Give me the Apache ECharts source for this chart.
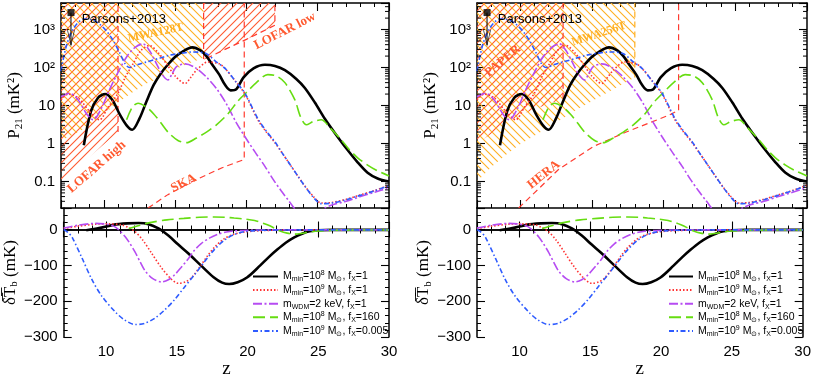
<!DOCTYPE html>
<html>
<head>
<meta charset="utf-8">
<script src="https://cdn.jsdelivr.net/npm/echarts@6/dist/echarts.min.js"></script>
<style>
  html, body { margin: 0; background: #fff; }
  #chart { width: 814px; height: 380px; }
</style>
</head>
<body>
<div id="chart"></div>
<script>
// axis ranges
const Z_MIN = 7, Z_MAX = 30
const P_MIN = 0.02, P_MAX = 5000
const T_MIN = -300, T_MAX = 60

// 21cm power spectrum P21 (mK^2) vs z
const p21Fid = [[8.6, 0.9], [9.1, 7], [9.6, 16], [10.1, 20], [10.6, 14], [11.1, 6], [11.6, 3], [12.0, 2.3], [12.5, 4.5], [13.0, 13], [13.5, 35], [14, 70], [14.5, 120], [15, 190], [15.5, 260], [16.2, 340], [16.8, 280], [17.2, 200], [17.6, 120], [18.1, 65], [18.5, 35], [18.9, 25], [19.3, 27], [19.8, 55], [20.5, 95], [21.3, 118], [22, 110], [22.7, 85], [23.5, 50], [24.1, 29], [24.8, 12], [25.5, 4.5], [26.2, 1.9], [27, 0.75], [27.8, 0.32], [28.5, 0.17], [29.2, 0.12], [30, 0.1]]
const p21M9 = [[7, 14], [7.5, 20], [8.2, 16], [9, 7], [9.7, 4.2], [10.3, 9], [11, 21], [11.5, 55], [12.05, 125], [12.6, 280], [13.2, 380], [13.8, 250], [14.4, 125], [15, 60], [15.7, 38], [16.1, 55], [16.5, 85], [17.3, 140], [18.1, 125], [18.5, 95], [19.2, 45], [19.9, 20], [20.8, 4.2], [21.4, 2], [22, 1.05], [22.6, 0.5], [23.15, 0.25], [23.6, 0.14], [24.1, 0.076], [24.7, 0.04], [25.25, 0.027], [26, 0.028], [27, 0.034], [27.8, 0.042], [29, 0.058], [30, 0.08]]
const p21Wdm = [[7, 17], [7.6, 21], [8.2, 14], [8.8, 6], [9.25, 4.2], [9.8, 8], [10.4, 26], [11, 75], [11.6, 190], [12.2, 340], [12.75, 420], [13.2, 280], [13.7, 125], [14.1, 65], [14.5, 47], [14.8, 70], [15.1, 105], [15.7, 125], [16.4, 100], [17.2, 56], [17.9, 28], [18.6, 11], [19.3, 3.5], [19.9, 1.5], [20.6, 0.6], [21.3, 0.25], [21.9, 0.11], [22.45, 0.056], [23, 0.03], [23.6, 0.016], [24.5, 0.012], [25.5, 0.02], [26, 0.024], [27, 0.03], [28, 0.04], [29, 0.052], [30, 0.068]]
const p21Fx160 = [[11.6, 4.2], [12.0, 9], [12.4, 11.5], [13, 9], [13.5, 6], [14, 3.5], [14.5, 2], [15.2, 1.2], [15.8, 1.05], [16.5, 1.4], [17.2, 2], [17.9, 3.1], [18.7, 6], [19.4, 13], [20, 22], [20.7, 40], [21.5, 65], [22.1, 60], [22.7, 40], [23.4, 14], [23.8, 5], [24.2, 3.1], [24.7, 3.8], [25.25, 4.2], [25.9, 2.5], [26.65, 1.25], [27.2, 0.7], [27.8, 0.42], [28.5, 0.27], [29.2, 0.19], [30, 0.14]]
const p21Fx0005 = [[7, 80], [7.4, 400], [7.9, 1100], [8.6, 1900], [9.2, 1800], [9.7, 1400], [10.2, 900], [10.65, 520], [11.1, 250], [11.5, 125], [11.8, 100], [12.4, 120], [13, 140], [14, 180], [14.6, 210], [15.5, 240], [16.25, 257], [17.2, 232], [17.8, 150], [18.5, 95], [19.2, 45], [19.9, 21], [20.8, 4.5], [21.4, 2.1], [22, 1.1], [22.6, 0.5], [23.15, 0.25], [23.6, 0.14], [24.1, 0.075], [24.7, 0.038], [25.25, 0.026], [26, 0.027], [27, 0.033], [27.8, 0.041], [29, 0.057], [30, 0.078]]

// global brightness temperature (mK) vs z
const dTbFid = [[8.6, -2], [9.5, 4], [10.5, 13], [11.5, 17], [12.3, 18], [13, 15], [13.7, 3], [14.4, -17], [15.1, -42], [15.8, -66], [16.7, -100], [17.6, -133], [18.2, -148], [18.7, -152], [19.3, -147], [19.96, -134], [20.9, -100], [21.5, -77], [22.1, -56], [22.7, -37], [23.3, -22], [23.9, -11], [24.4, -5], [25, -2], [26, -1], [28, -1], [30, -1]]
const dTbM9 = [[7, 3], [8, 9], [9.25, 15], [10.2, 16], [11.1, 13], [11.6, 5], [12.05, -6], [12.6, -30], [13.2, -65], [13.9, -106], [14.6, -138], [15.1, -150], [15.6, -146], [16.05, -134], [16.7, -100], [17.2, -72], [17.65, -50], [18.3, -27], [19.05, -13], [19.8, -7], [20.5, -4], [22, -2], [26, -1], [30, -1]]
const dTbWdm = [[7, 4], [8, 12], [9.25, 17], [10, 15], [10.6, 8], [11, -5], [11.35, -20], [11.7, -40], [12.05, -63], [12.4, -90], [12.75, -115], [13.3, -137], [13.9, -146], [14.4, -140], [14.85, -126], [15.3, -106], [15.8, -82], [16.2, -60], [16.7, -40], [17.3, -24], [17.9, -13], [18.5, -7], [19, -4], [20, -2], [22, -1], [26, -1], [30, -1]]
const dTbFx160 = [[11.6, 3], [12.4, 12], [13.2, 20], [14.3, 27], [15.5, 31], [16.6, 34], [17.65, 35], [18.5, 34], [19.05, 32], [19.8, 29], [20.5, 25], [21, 19], [21.4, 13], [21.9, 4], [22.3, -4], [22.8, -10], [23.3, -13], [23.8, -11], [24.4, -7], [25, -4], [26, -2], [28, -1.5], [30, -1.5]]
const dTbFx0005 = [[7, 0], [7.3, -8], [7.6, -22], [8.3, -80], [9, -140], [9.7, -186], [10.65, -230], [11.3, -252], [12.05, -265], [12.7, -262], [13.45, -247], [14.15, -224], [14.85, -195], [15.55, -160], [16.25, -126], [16.95, -90], [17.65, -56], [18.35, -30], [19.05, -14], [19.8, -6], [20.5, -3], [22, -1.5], [26, -1], [30, -1]]

// instrument sensitivities (lower edge of detectable region, mK^2)
const lofarHigh = [[7, 0.1], [9, 0.45], [11, 2]]
const mwa128T = [[7, 1.2], [8, 1.8], [9, 3], [10, 6], [11, 12], [12, 22], [13, 38], [14, 55], [15, 90], [16, 130], [17, 180]]
const lofarLow = [[17, 160], [18.5, 300], [20, 550], [22, 1300]]
const ska = [[13.1, 0.02], [14.5, 0.045], [16.2, 0.1], [18.3, 0.23], [19.85, 0.38]]
const paper = [[7, 1], [8, 1.8], [9, 3.5], [10, 5.5], [11, 8], [12, 11], [13, 15]]
const mwa256T = [[7, 0.1], [8, 0.24], [9, 0.5], [10, 0.95], [11, 1.6], [12, 2.7], [13, 4.6], [14, 8], [15, 13], [16, 21], [17, 34], [18, 55]]
const hera = [[9.9, 0.02], [11, 0.05], [12.7, 0.21], [15.1, 0.83], [17.4, 2.0], [20.4, 5.6], [21.05, 7.5]]

// Parsons+2013 upper limit
const parsons2013 = [7.7, 2800]
const parsonsArrowTip = [7.7, 390]

// tick labels
const p21TickLabels = { '-1': '0.1', '0': '1', '1': '10', '2': '10²', '3': '10³' }
const p21MinorTicks = [0.03, 0.04, 0.05, 0.06, 0.07, 0.08, 0.09, 0.2, 0.3, 0.4, 0.5, 0.6, 0.7, 0.8, 0.9, 2, 3, 4, 5, 6, 7, 8, 9, 20, 30, 40, 50, 60, 70, 80, 90, 200, 300, 400, 500, 600, 700, 800, 900, 2000, 3000, 4000]

const SANS = '"Liberation Sans", Arial, sans-serif'
const SERIF = '"Liberation Serif", "DejaVu Serif", serif'
const RED = '#ff3b30'
const HATCH_RED = '#ff5a30'
const HATCH_ORANGE = '#ffb022'

const MODELS = [
  { name: 'fid', p21: p21Fid, dTb: dTbFid, style: { color: '#000', width: 2.6, type: 'solid' } },
  { name: 'm9', p21: p21M9, dTb: dTbM9, style: { color: '#ff3333', width: 1.6, type: [1.5, 2] } },
  { name: 'wdm', p21: p21Wdm, dTb: dTbWdm, style: { color: '#b64cf2', width: 1.6, type: [9, 2.5, 2, 2.5] } },
  { name: 'fx160', p21: p21Fx160, dTb: dTbFx160, style: { color: '#66dd11', width: 1.6, type: [12, 5] } },
  { name: 'fx0005', p21: p21Fx0005, dTb: dTbFx0005, style: { color: '#2e5bff', width: 1.6, type: [5, 2.5, 1.5, 2.5] } }
]

const LEGEND_TEXT = {
  fid: '{a|M}{s|min}{a|=10}{p|8}{a| M}{s|⊙}{a|, f}{s|X}{a|=1}',
  m9: '{a|M}{s|min}{a|=10}{p|9}{a| M}{s|⊙}{a|, f}{s|X}{a|=1}',
  wdm: '{a|m}{s|WDM}{a|=2 keV, f}{s|X}{a|=1}',
  fx160: '{a|M}{s|min}{a|=10}{p|8}{a| M}{s|⊙}{a|, f}{s|X}{a|=160}',
  fx0005: '{a|M}{s|min}{a|=10}{p|9}{a| M}{s|⊙}{a|, f}{s|X}{a|=0.005}'
}
const LEGEND_RICH = {
  a: { fontFamily: SANS, fontSize: 10.5, lineHeight: 12, color: '#000' },
  s: { fontFamily: SANS, fontSize: 7, lineHeight: 6, padding: [6, 0, 0, 0], color: '#000' },
  p: { fontFamily: SANS, fontSize: 7, lineHeight: 6, padding: [0, 0, 6, 0], color: '#000' }
}

function makeHatch(color, dir) {
  const c = document.createElement('canvas')
  c.width = c.height = 8
  const g = c.getContext('2d')
  g.strokeStyle = color
  g.lineWidth = 1.1
  g.beginPath()
  if (dir > 0) {
    g.moveTo(0, 8); g.lineTo(8, 0)
    g.moveTo(-1, 1); g.lineTo(1, -1)
    g.moveTo(7, 9); g.lineTo(9, 7)
  } else {
    g.moveTo(0, 0); g.lineTo(8, 8)
    g.moveTo(-1, 7); g.lineTo(1, 9)
    g.moveTo(7, -1); g.lineTo(9, 1)
  }
  g.stroke()
  return c
}
const hatchRed = makeHatch(HATCH_RED, 1)
const hatchOrange = makeHatch(HATCH_ORANGE, -1)

const grids = [
  { left: 61, top: 3, width: 328, height: 205 },
  { left: 61, top: 208, width: 328, height: 139 },
  { left: 477, top: 3, width: 330, height: 205 },
  { left: 477, top: 208, width: 330, height: 139 }
]

const axisLine = { show: true, lineStyle: { color: '#000', width: 1.5 } }
const tickMajor = { show: true, inside: true, length: 8, lineStyle: { color: '#000', width: 1.1 } }
const tickMinor = { show: true, inside: true, length: 4, lineStyle: { color: '#000', width: 1 } }

// x axes: 4 per grid -> main bottom, minor bottom, main top, minor top
const xAxes = []
grids.forEach((g, i) => {
  const labels = i % 2 === 1
  const base = { type: 'value', gridIndex: i, min: Z_MIN, max: Z_MAX, splitLine: { show: false } }
  xAxes.push({
    ...base, position: 'bottom', minInterval: 5, maxInterval: 5,
    axisLine, axisTick: tickMajor,
    axisLabel: { show: labels, color: '#000', fontSize: 15, fontFamily: SANS, margin: 7,
      formatter: v => (v % 5 === 0 ? String(v) : '') },
    name: labels ? 'z' : '', nameLocation: 'middle', nameGap: 21,
    nameTextStyle: { fontFamily: SERIF, fontSize: 19, color: '#000' }
  })
  xAxes.push({ ...base, position: 'bottom', interval: 1, axisLine: { show: false }, axisTick: tickMinor, axisLabel: { show: false } })
  xAxes.push({ ...base, position: 'top', minInterval: 5, maxInterval: 5, axisLine, axisTick: tickMajor, axisLabel: { show: false } })
  xAxes.push({ ...base, position: 'top', interval: 1, axisLine: { show: false }, axisTick: tickMinor, axisLabel: { show: false } })
})

const nameRich = {
  a: { fontFamily: SERIF, fontSize: 17, lineHeight: 18, color: '#000' },
  s: { fontFamily: SERIF, fontSize: 11, lineHeight: 8, padding: [8, 0, 0, 0], color: '#000' }
}

// y axes
const yAxes = []
const yIdx = {}
grids.forEach((g, i) => {
  if (i % 2 === 0) {
    const base = { type: 'log', logBase: 10, gridIndex: i, min: P_MIN, max: P_MAX, splitLine: { show: false }, minorTick: { show: false } }
    yIdx[i] = yAxes.length
    yAxes.push({
      ...base, position: 'left', axisLine, axisTick: tickMajor,
      axisLabel: { color: '#000', fontSize: 15, fontFamily: SANS, margin: 6,
        formatter: v => {
          const e = Math.round(Math.log10(v) * 1e6) / 1e6
          return Number.isInteger(e) && p21TickLabels[e] ? p21TickLabels[e] : ''
        } },
      name: '{a|P}{s|21}{a| (mK²)}', nameLocation: 'middle', nameRotate: 90, nameGap: 37,
      nameTextStyle: { rich: nameRich }
    })
    yAxes.push({ ...base, position: 'right', axisLine, axisTick: tickMajor, axisLabel: { show: false } })
  } else {
    const base = { type: 'value', gridIndex: i, min: T_MIN, max: T_MAX, splitLine: { show: false } }
    yIdx[i] = yAxes.length
    yAxes.push({
      ...base, position: 'left', interval: 100, axisLine, axisTick: tickMajor,
      axisLabel: { color: '#000', fontSize: 15, fontFamily: SANS, margin: 6,
        formatter: v => (v > 0 || v % 100 !== 0 ? '' : v < 0 ? '−' + (-v) : '0') },
      name: '{a|δ̅T̅}{s|b}{a| (mK)}', nameLocation: 'middle', nameRotate: 90, nameGap: 44,
      nameTextStyle: { rich: nameRich }
    })
    yAxes.push({ ...base, position: 'left', interval: 20, axisLine: { show: false }, axisTick: tickMinor, axisLabel: { show: false } })
    yAxes.push({ ...base, position: 'right', interval: 100, axisLine, axisTick: tickMajor, axisLabel: { show: false } })
    yAxes.push({ ...base, position: 'right', interval: 20, axisLine: { show: false }, axisTick: tickMinor, axisLabel: { show: false } })
  }
})

const series = []
const anchor = {}

function add(s) { series.push(Object.assign({ silent: true, animation: false }, s)); return series.length - 1 }

function region(g, data, pattern) {
  add({ type: 'line', xAxisIndex: 4 * g, yAxisIndex: yIdx[g], data, symbol: 'none',
    lineStyle: { opacity: 0 }, areaStyle: { color: { image: pattern, repeat: 'repeat' }, origin: 'end', opacity: 1 }, z: 1 })
}
function dashed(g, data, color) {
  add({ type: 'line', xAxisIndex: 4 * g, yAxisIndex: yIdx[g], data, symbol: 'none',
    lineStyle: { color, width: 1.2, type: [6, 4] }, z: 2 })
}
const last = a => a[a.length - 1]
const upEdge = a => [last(a), [last(a)[0], P_MAX]]

// left top: LOFAR, MWA128T, SKA
region(0, lofarHigh, hatchRed)
region(0, mwa128T, hatchOrange)
region(0, lofarLow, hatchRed)
dashed(0, upEdge(lofarHigh), RED)
dashed(0, [[lofarLow[0][0], P_MAX]].concat(lofarLow, [[last(lofarLow)[0], P_MAX]]), RED)
dashed(0, ska.concat([[last(ska)[0], P_MAX]]), RED)

// right top: PAPER, MWA256T, HERA
region(2, paper, hatchRed)
region(2, mwa256T, hatchOrange)
dashed(2, upEdge(paper), RED)
dashed(2, upEdge(mwa256T), HATCH_ORANGE)
dashed(2, hera.concat([[last(hera)[0], P_MAX]]), RED)

// model curves
;[0, 1, 2, 3].forEach(g => {
  MODELS.forEach(m => {
    const idx = add({ name: m.name, type: 'line', xAxisIndex: 4 * g, yAxisIndex: yIdx[g],
      data: g % 2 === 0 ? m.p21 : m.dTb, symbol: 'none', smooth: 0.3,
      lineStyle: m.style, itemStyle: { color: m.style.color }, z: 5 })
    if (m.name === 'fid') anchor[g] = idx
  })
})

// Parsons+2013 limit + minor log ticks
;[0, 2].forEach(g => {
  add({ type: 'line', xAxisIndex: 4 * g, yAxisIndex: yIdx[g], data: [parsons2013, parsonsArrowTip],
    symbol: 'none', lineStyle: { color: '#000', width: 1 }, z: 6 })
  add({ type: 'scatter', xAxisIndex: 4 * g, yAxisIndex: yIdx[g], data: [parsons2013],
    symbol: 'rect', symbolSize: 7, itemStyle: { color: '#000' }, z: 7 })
  add({ type: 'scatter', xAxisIndex: 4 * g, yAxisIndex: yIdx[g], data: [parsonsArrowTip],
    symbol: 'path://M0,0L5,15L10,0', symbolSize: [7, 15], symbolOffset: [0, '-50%'],
    itemStyle: { color: 'none', borderColor: '#000', borderWidth: 1 }, z: 7 })
  add({ type: 'custom', xAxisIndex: 4 * g, yAxisIndex: yIdx[g], clip: false, z: 8,
    data: p21MinorTicks.map(v => [Z_MIN, v]),
    renderItem: (params, api) => {
      const a = api.coord([Z_MIN, api.value(1)])
      const b = api.coord([Z_MAX, api.value(1)])
      return { type: 'group', children: [
        { type: 'line', shape: { x1: a[0], y1: a[1], x2: a[0] + 4, y2: a[1] }, style: { stroke: '#000', lineWidth: 1 } },
        { type: 'line', shape: { x1: b[0] - 4, y1: b[1], x2: b[0], y2: b[1] }, style: { stroke: '#000', lineWidth: 1 } }
      ] }
    } })
})

function legendAt(left, iconW) {
  return { left, top: 270, orient: 'vertical', itemWidth: iconW, itemHeight: 10, itemGap: 0.6, padding: 0,
    selectedMode: false, data: MODELS.map(m => m.name), itemStyle: { opacity: 0 },
    formatter: n => LEGEND_TEXT[n], textStyle: { fontSize: 10.5, fontFamily: SANS, rich: LEGEND_RICH } }
}

const chart = echarts.init(document.getElementById('chart'), null, { renderer: 'canvas' })
chart.setOption({
  animation: false,
  backgroundColor: '#fff',
  grid: grids,
  xAxis: xAxes,
  yAxis: yAxes,
  legend: [legendAt(252, 25), legendAt(668, 24)],
  series
})

// annotations anchored in data coordinates: [panel, z, P, rotation deg, text, color, font, align]
const NOTES = [
  [0, 9.5, 0.24, 41, 'LOFAR high', HATCH_RED, 'bold 13px ' + SERIF, 'center'],
  [0, 13.65, 810, 12, 'MWA128T', HATCH_ORANGE, 'bold 12px ' + SERIF, 'center'],
  [0, 22.7, 910, 27, 'LOFAR low', HATCH_RED, 'bold 13px ' + SERIF, 'center'],
  [0, 15.6, 0.09, 27, 'SKA', HATCH_RED, 'bold 13px ' + SERIF, 'center'],
  [0, 8.45, 1900, 0, 'Parsons+2013', '#000', '13px ' + SANS, 'left'],
  [2, 8.8, 148, 40, 'PAPER', HATCH_RED, 'bold 13px ' + SERIF, 'center'],
  [2, 15.5, 760, 18, 'MWA256T', HATCH_ORANGE, 'bold 12px ' + SERIF, 'center'],
  [2, 11.65, 0.15, 39, 'HERA', HATCH_RED, 'bold 13px ' + SERIF, 'center'],
  [2, 8.45, 1900, 0, 'Parsons+2013', '#000', '13px ' + SANS, 'left']
]
chart.setOption({
  graphic: NOTES.map(([g, z, p, rot, text, fill, font, align]) => {
    const pt = chart.convertToPixel({ seriesIndex: anchor[g] }, [z, p])
    return { type: 'text', x: pt[0], y: pt[1], rotation: rot * Math.PI / 180, z: 20, silent: true,
      style: { text, fill, font, align, verticalAlign: 'middle', textAlign: align, textVerticalAlign: 'middle' } }
  })
})
</script>
</body>
</html>
